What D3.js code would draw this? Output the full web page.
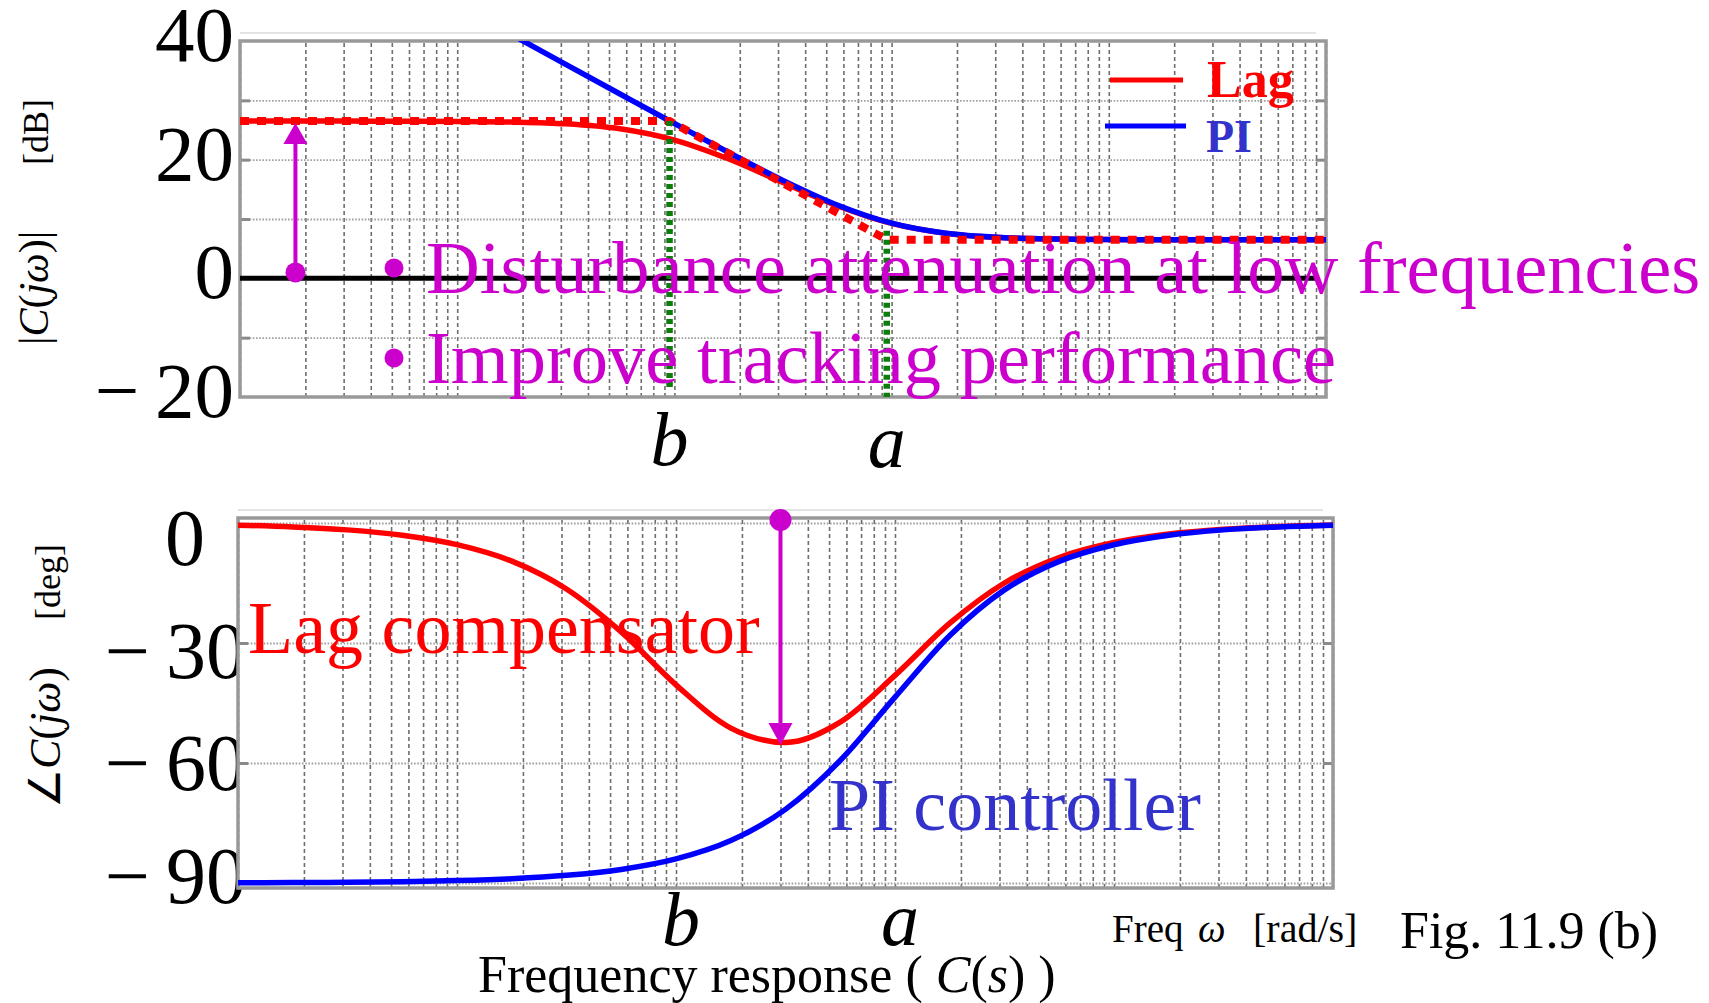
<!DOCTYPE html>
<html>
<head>
<meta charset="UTF-8">
<title>Lag compensator and PI controller, frequency response</title>
<script src="https://d3js.org/d3.v7.min.js"></script>
<style>
  body { margin: 0; background: #fff; }
  svg { display: block; }
  text { font-family: "Liberation Serif", "Times New Roman", serif; }
</style>
</head>
<body>
<div id="chart"></div>
<script>
// frequency points, four per decade [rad/s]
const freqs = [0.001, 0.00178, 0.00316, 0.00562, 0.01, 0.0178, 0.0316, 0.0562, 0.1, 0.178,
  0.316, 0.562, 1, 1.78, 3.16, 5.62, 10, 17.8, 31.6, 56.2, 100];

// gain [dB]
const lagGain = [26.5, 26.5, 26.5, 26.48, 26.45, 26.35, 26.05, 25.21, 23.31, 20.11,
  16.14, 12.24, 9.25, 7.58, 6.87, 6.62, 6.54, 6.51, 6.5, 6.5, 6.5];
const piGain = [null, null, null, null, 46.05, 41.06, 36.06, 31.07, 26.1, 21.2,
  16.51, 12.36, 9.29, 7.59, 6.88, 6.62, 6.54, 6.51, 6.5, 6.5, 6.5];

// phase [deg]
const lagPhase = [-0.54, -0.97, -1.72, -3.05, -5.41, -9.53, -16.5, -27.23, -40.46, -51.29,
  -54.87, -49.79, -38.1, -25.05, -15, -8.62, -4.89, -2.75, -1.55, -0.87, -0.49];
const piPhase = [-89.94, -89.89, -89.81, -89.66, -89.4, -88.93, -88.09, -86.61, -83.99, -79.4,
  -71.59, -59.38, -43.53, -28.11, -16.72, -9.59, -5.43, -3.06, -1.72, -0.97, -0.54];

// straight line approximation of the lag gain
const asymFreqs = [0.001, 0.095, 0.95, 100];
const asymGain = [26.5, 26.5, 6.5, 6.5];

// corner frequencies b and a, with the green guide lines
const cornerNames = ["b", "a"];
const cornerFreqs = [0.095, 0.95];
const guideTop = [26.5, 8];
const guideBottom = [-18.5, -20];

const gainTicks = [40, 20, 0, -20];
const gainGrid = [30, 20, 10, -10];
const phaseTicks = [0, -30, -60, -90];

// arrows
const gainArrow = [0.0018, 1, 26.2];      // freq, from, to
const phaseArrow = [0.3, 0.75, -55.5];

const W = 1709, H = 1003;
const red = "#ff0000", blue = "#0000ff", blueText = "#3333cc", magenta = "#cc00cc", green = "#0b7d0b";

const svg = d3.select("#chart").append("svg").attr("width", W).attr("height", H);
svg.append("rect").attr("width", W).attr("height", H).attr("fill", "#fff");

const defs = svg.append("defs");
defs.append("filter").attr("id", "shadow").attr("x", "-5%").attr("y", "-200%")
  .attr("width", "110%").attr("height", "500%")
  .append("feGaussianBlur").attr("stdDeviation", 2.5);
defs.append("filter").attr("id", "soft")
  .append("feGaussianBlur").attr("stdDeviation", 0.6);

// scales
const xMag = d3.scaleLog().domain([1e-3, 1e2]).range([240, 1326]);
const yMag = d3.scaleLinear().domain([-20, 40]).range([397, 41]);
const xPh = d3.scaleLog().domain([1e-3, 1e2]).range([238, 1333]);
const yPh = d3.scaleLinear().domain([-91.25, 1.25]).range([888, 518]);
const phLabelY = d3.scaleLinear().domain([0, -90]).range([565, 903]);

function fmt(v) {
  return v < 0 ? "\u2212\u2009" + Math.abs(v) : String(v);
}

// tick labels, drawn first so the plot area covers any overhang
svg.append("g").selectAll("text").data(gainTicks).join("text")
  .attr("x", 234).attr("y", d => yMag(d) + 20)
  .attr("text-anchor", "end").attr("font-size", 79).text(fmt);

svg.append("g").selectAll("text").data(phaseTicks).join("text")
  .attr("x", d => d === 0 ? 205 : 246).attr("y", d => phLabelY(d))
  .attr("text-anchor", "end").attr("font-size", 80).text(fmt);

// panel: background, grid, frame
function panel(x, y, hGrid, edgeTicks, id) {
  const [x0, x1] = x.range();
  const [y1, y0] = y.range();
  const g = svg.append("g");

  g.append("rect").attr("x", x0).attr("y", y0).attr("width", x1 - x0).attr("height", y1 - y0)
    .attr("fill", "#fff");
  g.append("line").attr("x1", x0).attr("x2", x1 - 10).attr("y1", y0 - 8).attr("y2", y0 - 8)
    .attr("stroke", "#e4e4e4").attr("stroke-width", 2);

  const vg = g.append("g").attr("transform", `translate(0,${y1})`)
    .call(d3.axisBottom(x).tickValues(x.ticks()).tickSize(-(y1 - y0)).tickFormat(""));
  vg.select(".domain").remove();
  vg.selectAll("line").attr("stroke", "#6e6e6e").attr("stroke-width", 1.6)
    .attr("stroke-dasharray", "4,3");

  const hg = g.append("g").attr("transform", `translate(${x0},0)`)
    .call(d3.axisLeft(y).tickValues(hGrid).tickSize(-(x1 - x0)).tickFormat(""));
  hg.select(".domain").remove();
  hg.selectAll("line").attr("stroke", "#a0a0a0").attr("stroke-width", 1.8)
    .attr("stroke-dasharray", "1.6,1.6");

  const lt = g.append("g").attr("transform", `translate(${x0},0)`)
    .call(d3.axisLeft(y).tickValues(edgeTicks).tickSize(-10).tickFormat(""));
  const rt = g.append("g").attr("transform", `translate(${x1},0)`)
    .call(d3.axisRight(y).tickValues(edgeTicks).tickSize(-10).tickFormat(""));
  [lt, rt].forEach(a => {
    a.select(".domain").remove();
    a.selectAll("line").attr("stroke", "#8a8a8a").attr("stroke-width", 3);
  });

  g.append("rect").attr("x", x0).attr("y", y0).attr("width", x1 - x0).attr("height", y1 - y0)
    .attr("fill", "none").attr("stroke", "#999").attr("stroke-width", 3.5);

  defs.append("clipPath").attr("id", id).append("rect")
    .attr("x", x0).attr("y", y0).attr("width", x1 - x0).attr("height", y1 - y0);
  return g;
}

panel(xMag, yMag, gainGrid, [30, 20, 10, -10], "clipMag");
panel(xPh, yPh, [0, -30, -60, -90], [-30, -60], "clipPh");

// ---- gain plot ----
const gMag = svg.append("g").attr("clip-path", "url(#clipMag)");

// 0 dB line with its soft shadow
gMag.append("line").attr("x1", xMag(1e-3)).attr("x2", xMag(90)).attr("y1", yMag(0) + 5).attr("y2", yMag(0) + 5)
  .attr("stroke", "#999").attr("stroke-width", 6).attr("filter", "url(#shadow)");
gMag.append("line").attr("x1", xMag(1e-3)).attr("x2", xMag(90)).attr("y1", yMag(0)).attr("y2", yMag(0))
  .attr("stroke", "#000").attr("stroke-width", 5);

const magLine = d3.line()
  .defined(d => d[1] != null)
  .x(d => xMag(d[0])).y(d => yMag(d[1]))
  .curve(d3.curveMonotoneX);

gMag.append("path").datum(freqs.map((f, i) => [f, lagGain[i]]))
  .attr("d", magLine).attr("fill", "none").attr("stroke", red).attr("stroke-width", 5.5)
  .attr("filter", "url(#soft)");
gMag.append("path").datum(freqs.map((f, i) => [f, piGain[i]]))
  .attr("d", magLine).attr("fill", "none").attr("stroke", blue).attr("stroke-width", 5.5)
  .attr("filter", "url(#soft)");

gMag.append("path").datum(asymFreqs.map((f, i) => [f, asymGain[i]]))
  .attr("d", d3.line().x(d => xMag(d[0])).y(d => yMag(d[1])))
  .attr("fill", "none").attr("stroke", red).attr("stroke-width", 8)
  .attr("stroke-dasharray", "9,8");

// green guides at b and a
svg.append("g").selectAll("line").data(cornerFreqs).join("line")
  .attr("x1", d => xMag(d)).attr("x2", d => xMag(d))
  .attr("y1", (d, i) => yMag(guideTop[i])).attr("y2", (d, i) => yMag(guideBottom[i]))
  .attr("stroke", green).attr("stroke-width", 6.5).attr("stroke-dasharray", "5,4");

svg.append("g").selectAll("text").data(cornerFreqs).join("text")
  .attr("x", d => xMag(d)).attr("y", (d, i) => 465 + i * 2)
  .attr("text-anchor", "middle").attr("font-size", 76).attr("font-style", "italic")
  .text((d, i) => cornerNames[i]);

// arrow: low-frequency gain boost
{
  const ax = xMag(gainArrow[0]), yDot = yMag(gainArrow[1]), yTip = yMag(gainArrow[2]);
  const g = svg.append("g").attr("fill", magenta).attr("stroke", magenta);
  g.append("line").attr("x1", ax).attr("x2", ax).attr("y1", yDot).attr("y2", yTip + 18).attr("stroke-width", 4);
  g.append("path").attr("stroke", "none")
    .attr("d", `M${ax},${yTip}L${ax - 12},${yTip + 21}L${ax + 12},${yTip + 21}Z`);
  g.append("circle").attr("cx", ax).attr("cy", yDot).attr("r", 10).attr("stroke", "none");
}

// legend
const legend = svg.append("g");
legend.append("line").attr("x1", 1110).attr("x2", 1183).attr("y1", 80).attr("y2", 80)
  .attr("stroke", red).attr("stroke-width", 5);
legend.append("text").attr("x", 1207).attr("y", 97).attr("font-size", 52).attr("font-weight", "bold")
  .attr("fill", red).text("Lag");
legend.append("line").attr("x1", 1105).attr("x2", 1186).attr("y1", 126).attr("y2", 126)
  .attr("stroke", blue).attr("stroke-width", 5);
legend.append("text").attr("x", 1206).attr("y", 152).attr("font-size", 46).attr("font-weight", "bold")
  .attr("fill", blueText).text("PI");

// bullet notes
const notes = ["Disturbance attenuation at low frequencies", "Improve tracking performance"];
const noteY = [293, 383];
const noteG = svg.append("g").attr("fill", magenta);
noteG.selectAll("circle").data(notes).join("circle")
  .attr("cx", 394).attr("cy", (d, i) => noteY[i] - 25).attr("r", 9.5);
noteG.selectAll("text").data(notes).join("text")
  .attr("x", 426).attr("y", (d, i) => noteY[i]).attr("font-size", 74.5).text(d => d);

// ---- phase plot ----
const gPh = svg.append("g").attr("clip-path", "url(#clipPh)");
const phLine = d3.line().x(d => xPh(d[0])).y(d => yPh(d[1])).curve(d3.curveMonotoneX);

gPh.append("path").datum(freqs.map((f, i) => [f, lagPhase[i]]))
  .attr("d", phLine).attr("fill", "none").attr("stroke", red).attr("stroke-width", 5.5)
  .attr("filter", "url(#soft)");
gPh.append("path").datum(freqs.map((f, i) => [f, piPhase[i]]))
  .attr("d", phLine).attr("fill", "none").attr("stroke", blue).attr("stroke-width", 5.5)
  .attr("filter", "url(#soft)");

{
  const ax = xPh(phaseArrow[0]), yDot = yPh(phaseArrow[1]), yTip = yPh(phaseArrow[2]);
  const g = svg.append("g").attr("fill", magenta).attr("stroke", magenta);
  g.append("line").attr("x1", ax).attr("x2", ax).attr("y1", yDot).attr("y2", yTip - 18).attr("stroke-width", 4);
  g.append("path").attr("stroke", "none")
    .attr("d", `M${ax},${yTip}L${ax - 12},${yTip - 22}L${ax + 12},${yTip - 22}Z`);
  g.append("circle").attr("cx", ax).attr("cy", yDot).attr("r", 11).attr("stroke", "none");
}

svg.append("text").attr("x", 248).attr("y", 653).attr("font-size", 74).attr("fill", red)
  .text("Lag compensator");
svg.append("text").attr("x", 829).attr("y", 830).attr("font-size", 74).attr("fill", blueText)
  .text("PI controller");

svg.append("g").selectAll("text").data(cornerFreqs).join("text")
  .attr("x", d => xPh(d) + 10).attr("y", 945)
  .attr("text-anchor", "middle").attr("font-size", 76).attr("font-style", "italic")
  .text((d, i) => cornerNames[i]);

// ---- axis titles and captions ----
function rotTitle(x, y, parts, size) {
  const t = svg.append("text").attr("transform", `translate(${x},${y}) rotate(-90)`)
    .attr("font-size", size);
  parts.forEach(p => t.append("tspan").attr("font-style", p[1] ? "italic" : null).text(p[0]));
}
rotTitle(48, 345, [["|"], ["C", 1], ["("], ["j\u03c9", 1], [")"], ["|"]], 42);
rotTitle(48, 165, [["[dB]"]], 36);
rotTitle(60, 808, [["\u2220"], ["C", 1], ["("], ["j\u03c9", 1], [")"]], 44);
rotTitle(60, 620, [["[deg]"]], 36);

const cap = svg.append("text").attr("x", 478).attr("y", 992).attr("font-size", 52);
[["Frequency response ( "], ["C", 1], ["("], ["s", 1], [")"], [" )"]].forEach(p =>
  cap.append("tspan").attr("font-style", p[1] ? "italic" : null).text(p[0]));

svg.append("text").attr("x", 1112).attr("y", 942).attr("font-size", 39).text("Freq");
svg.append("text").attr("x", 1198).attr("y", 942).attr("font-size", 39).attr("font-style", "italic").text("\u03c9");
svg.append("text").attr("x", 1253).attr("y", 942).attr("font-size", 40).text("[rad/s]");
svg.append("text").attr("x", 1400).attr("y", 948).attr("font-size", 52).text("Fig. 11.9 (b)");
</script>
</body>
</html>
